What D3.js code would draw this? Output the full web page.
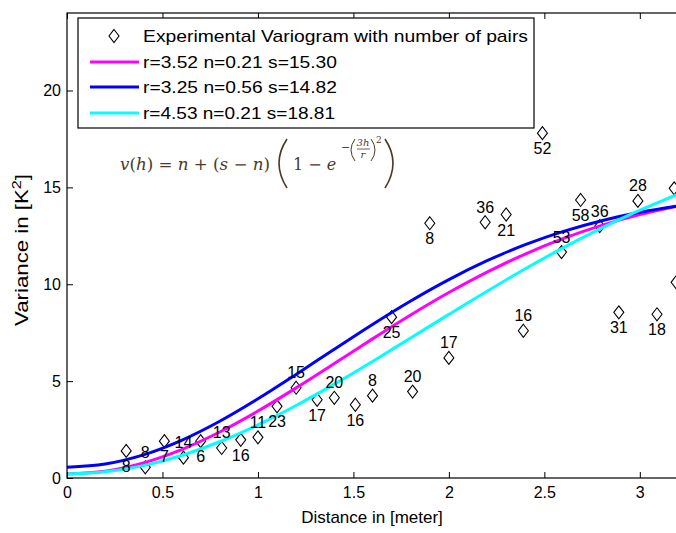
<!DOCTYPE html>
<html><head><meta charset="utf-8">
<script src="https://cdn.jsdelivr.net/npm/d3@7"></script>
<style>body{margin:0;background:#fff} svg{display:block}</style>
</head><body>
<script>
// ---- data ----
const lagDistance = [0.31,0.41,0.51,0.61,0.70,0.81,0.91,1.00,1.10,1.20,1.31,1.40,1.51,1.60,1.70,1.81,1.90,2.00,2.19,2.30,2.39,2.49,2.59,2.69,2.79,2.89,2.99,3.09,3.18,3.19];
const variance    = [1.40,0.55,1.90,1.05,1.90,1.55,1.97,2.10,3.70,4.66,4.04,4.14,3.78,4.25,8.30,4.46,13.15,6.20,13.20,13.60,7.60,17.80,11.66,14.35,13.00,8.55,14.30,8.45,14.95,10.10];
const pairCount   = [8,8,7,14,6,13,16,11,23,15,17,20,16,8,25,20,8,17,36,21,16,52,53,58,36,31,28,18,null,null];
const labelBelow  = [1,0,1,0,1,0,1,0,1,0,1,0,1,0,1,0,1,0,0,1,0,1,0,1,0,1,0,1,0,1];

const modelH    = [0,0.2,0.4,0.6,0.8,1.0,1.2,1.4,1.6,1.8,2.0,2.2,2.4,2.6,2.8,3.0,3.2];
const modelPink = [0.21,0.355,0.783,1.470,2.376,3.455,4.652,5.911,7.181,8.414,9.571,10.625,11.559,12.363,13.039,13.593,14.036];
const modelBlue = [0.56,0.721,1.193,1.946,2.930,4.086,5.347,6.647,7.928,9.139,10.242,11.214,12.043,12.729,13.281,13.714,14.042];
const modelCyan = [0.21,0.318,0.640,1.164,1.871,2.740,3.741,4.844,6.017,7.227,8.445,9.643,10.797,11.887,12.898,13.820,14.647];

const legendLabels = ["Experimental Variogram with number of pairs","r=3.52 n=0.21 s=15.30","r=3.25 n=0.56 s=14.82","r=4.53 n=0.21 s=18.81"];
const xTicks = [0,0.5,1,1.5,2,2.5,3];
const yTicks = [0,5,10,15,20];
const xDomain = [0,3.2];
const yDomain = [0,24];

// ---- layout ----
const W = 676, H = 533;
const L = 67, T = 13, R = 678, B = 478;
const font = "'Liberation Sans', Arial, sans-serif";

const svg = d3.select("body").append("svg").attr("width", W).attr("height", H)
  .style("font-family", font);

const x = d3.scaleLinear().domain(xDomain).range([L, R]);
const y = d3.scaleLinear().domain(yDomain).range([B, T]);

svg.append("defs").append("clipPath").attr("id","plotclip")
  .append("rect").attr("x",L).attr("y",T).attr("width",R-L).attr("height",B-T);

const plot = svg.append("g").attr("clip-path","url(#plotclip)");

const diamond = "M0,-6.5L5,0L0,6.5L-5,0Z";
const pts = d3.range(lagDistance.length).map(i => ({h:lagDistance[i], v:variance[i], n:pairCount[i], below:labelBelow[i]}));

plot.selectAll("path.pt").data(pts).enter().append("path")
  .attr("class","pt")
  .attr("d", diamond)
  .attr("transform", d => `translate(${x(d.h)},${y(d.v)})`)
  .attr("fill","none").attr("stroke","#000").attr("stroke-width",1.1);

const series = [
  {vals: modelPink, color:"#ff00ff"},
  {vals: modelBlue, color:"#0000ff"},
  {vals: modelCyan, color:"#00ffff"}
];
const line = d3.line().x(d => x(d[0])).y(d => y(d[1])).curve(d3.curveMonotoneX);
series.forEach(s => {
  plot.append("path")
    .attr("d", line(modelH.map((h,i)=>[h, s.vals[i]])))
    .attr("fill","none").attr("stroke", s.color).attr("stroke-width",3);
});

plot.selectAll("text.lbl").data(pts.filter(d => d.n !== null)).enter().append("text")
  .attr("class","lbl")
  .attr("x", d => x(d.h))
  .attr("y", d => d.below ? y(d.v) + 21 : y(d.v) - 9.5)
  .attr("text-anchor","middle")
  .attr("font-size", 16)
  .attr("fill","#000")
  .text(d => d.n);

// ---- axes ----
const gx = svg.append("g").attr("transform",`translate(0,${B})`)
  .call(d3.axisBottom(x).tickValues(xTicks).tickFormat(d3.format("")).tickSizeInner(-6).tickSizeOuter(0).tickPadding(9));
const gxt = svg.append("g").attr("transform",`translate(0,${T})`)
  .call(d3.axisTop(x).tickValues(xTicks).tickFormat("").tickSizeInner(-6).tickSizeOuter(0));
const gy = svg.append("g").attr("transform",`translate(${L},0)`)
  .call(d3.axisLeft(y).tickValues(yTicks).tickSizeInner(-6).tickSizeOuter(0).tickPadding(6));
[gx,gxt,gy].forEach(g => {
  g.select(".domain").remove();
  g.selectAll("text").attr("font-size",16).attr("fill","#000").style("font-family",font);
  g.selectAll("line").attr("stroke","#000");
});
svg.append("rect").attr("x",L).attr("y",T).attr("width",R-L).attr("height",B-T)
  .attr("fill","none").attr("stroke","#000").attr("stroke-width",1.2);

// axis titles
svg.append("text").attr("x", 372).attr("y", 523).attr("text-anchor","middle")
  .attr("font-size",17).attr("fill","#000").text("Distance in [meter]");
const yl = svg.append("text").attr("transform","translate(28,250) rotate(-90)")
  .attr("text-anchor","middle").attr("font-size",18).attr("fill","#000")
  .attr("textLength",152).attr("lengthAdjust","spacingAndGlyphs");
yl.append("tspan").text("Variance in [K");
yl.append("tspan").attr("font-size",13).attr("dy",-7).text("2");
yl.append("tspan").attr("dy",7).text("]");

// ---- legend ----
const lg = svg.append("g");
lg.append("rect").attr("x",78).attr("y",18).attr("width",456).attr("height",110)
  .attr("fill","#fff").attr("stroke","#000").attr("stroke-width",1.2);
const rowY = [36, 62, 87, 113];
lg.append("path").attr("d", diamond).attr("transform",`translate(114,${rowY[0]})`)
  .attr("fill","none").attr("stroke","#000").attr("stroke-width",1.1);
series.forEach((s,i) => {
  lg.append("line").attr("x1",90).attr("x2",139).attr("y1",rowY[i+1]).attr("y2",rowY[i+1])
    .attr("stroke",s.color).attr("stroke-width",3);
});
const legW = [385,194,194,192];
legendLabels.forEach((t,i) => {
  lg.append("text").attr("x",143).attr("y",rowY[i]+6).attr("font-size",17).attr("fill","#000")
    .attr("textLength",legW[i]).attr("lengthAdjust","spacingAndGlyphs").text(t);
});

// ---- formula ----
const fc = "#4a3a28";
const fg = svg.append("g").attr("fill",fc).style("font-family","'DejaVu Serif', 'Liberation Serif', serif");
const ft = fg.append("text").attr("x",120).attr("y",170).attr("font-size",16)
  .attr("textLength",150).attr("lengthAdjust","spacingAndGlyphs");
ft.append("tspan").attr("font-style","italic").text("v");
ft.append("tspan").text("(");
ft.append("tspan").attr("font-style","italic").text("h");
ft.append("tspan").text(") = ");
ft.append("tspan").attr("font-style","italic").text("n");
ft.append("tspan").text(" + (");
ft.append("tspan").attr("font-style","italic").text("s");
ft.append("tspan").text(" − ");
ft.append("tspan").attr("font-style","italic").text("n");
ft.append("tspan").text(")");
fg.append("path").attr("d","M287,139 Q271,163 287,188").attr("fill","none").attr("stroke",fc).attr("stroke-width",1.6);
fg.append("path").attr("d","M385,139 Q401,163 385,188").attr("fill","none").attr("stroke",fc).attr("stroke-width",1.6);
const f2 = fg.append("text").attr("x",293).attr("y",170).attr("font-size",16);
f2.append("tspan").text("1 − ");
f2.append("tspan").attr("font-style","italic").text("e");
fg.append("text").attr("x",341).attr("y",151).attr("font-size",11).text("−");
fg.append("path").attr("d","M355,139 Q347,150 355,161").attr("fill","none").attr("stroke",fc).attr("stroke-width",1);
fg.append("path").attr("d","M371,139 Q379,150 371,161").attr("fill","none").attr("stroke",fc).attr("stroke-width",1);
fg.append("text").attr("x",363).attr("y",146).attr("font-size",10).attr("text-anchor","middle").attr("font-style","italic").text("3h");
fg.append("line").attr("x1",357).attr("x2",370).attr("y1",149).attr("y2",149).attr("stroke",fc).attr("stroke-width",0.8);
fg.append("text").attr("x",363).attr("y",158).attr("font-size",10).attr("text-anchor","middle").attr("font-style","italic").text("r");
fg.append("text").attr("x",376).attr("y",143).attr("font-size",9).text("2");
</script>
</body></html>
